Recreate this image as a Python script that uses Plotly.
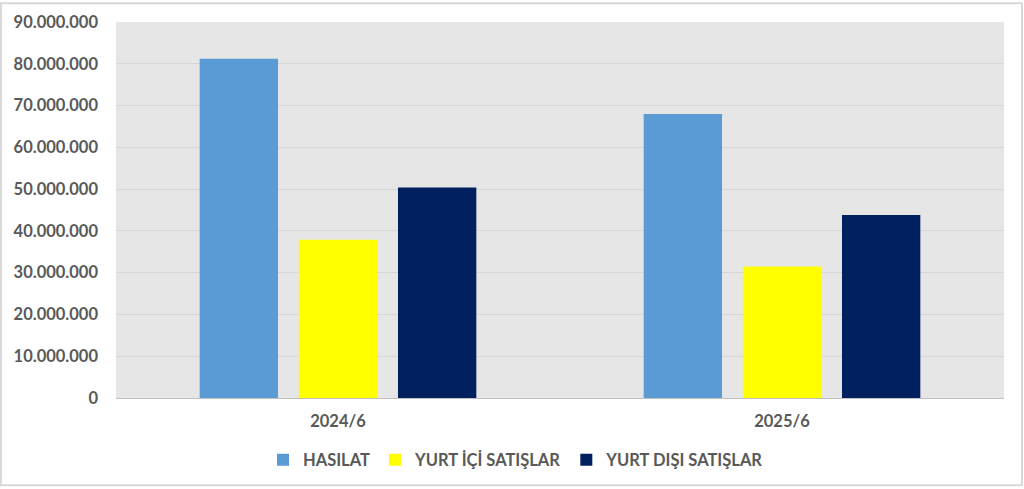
import plotly.graph_objects as go

periods = ["2024/6", "2025/6"]
hasilat = [81200000, 68000000]
yurt_ici = [37900000, 31500000]
yurt_disi = [50400000, 43800000]
tick_vals = [0, 10000000, 20000000, 30000000, 40000000, 50000000,
             60000000, 70000000, 80000000, 90000000]

series = [
    ("HASILAT", hasilat, "#5b9bd5"),
    ("YURT İÇİ SATIŞLAR", yurt_ici, "#ffff00"),
    ("YURT DIŞI SATIŞLAR", yurt_disi, "#002060"),
]

fig = go.Figure()
for name, vals, color in series:
    fig.add_trace(go.Bar(name=name, x=periods, y=vals, marker_color=color,
                         marker_line_width=0))

W, H = 1024, 489
ml, mr, mt, mb = 116, 20, 20, 90
pw, ph = W - ml - mr, H - mt - mb
txt = dict(size=16.5, color="#595959", weight="bold")

fig.update_layout(
    width=W, height=H,
    margin=dict(l=ml, r=mr, t=mt, b=mb),
    paper_bgcolor="white",
    plot_bgcolor="#e7e6e6",
    barmode="group",
    bargap=0.33,
    bargroupgap=0.21,
    separators=",.",
    font=dict(family="Lato, 'Noto Sans', sans-serif", size=16.5, color="#595959"),
    showlegend=True,
    legend=dict(orientation="h", x=(516 - ml) / pw, xanchor="center", y=-0.165,
                yanchor="middle", font=txt, itemsizing="constant",
                traceorder="normal", itemwidth=30),
    shapes=[dict(type="rect", xref="paper", yref="paper",
                 x0=-(ml - 1) / pw, x1=(W - 2 - ml) / pw,
                 y0=-(mb - 2) / ph, y1=(ph + mt - 1) / ph,
                 line=dict(color="#d9d9d9", width=2), layer="below")],
)
fig.update_xaxes(showgrid=False, showline=True, linecolor="#bfbfbf", linewidth=1,
                 ticks="", tickfont=txt, ticklabelstandoff=8)
fig.update_yaxes(range=[0, 90000000], tickvals=tick_vals, tickformat=",d",
                 showgrid=True, gridcolor="#d6d6d6", gridwidth=1, zeroline=False,
                 showline=False, ticks="", tickfont=txt, ticklabelstandoff=17)

fig.write_html("out.html", config={"displayModeBar": False},
               post_script="document.body.style.margin='0';document.body.style.overflow='hidden';")
